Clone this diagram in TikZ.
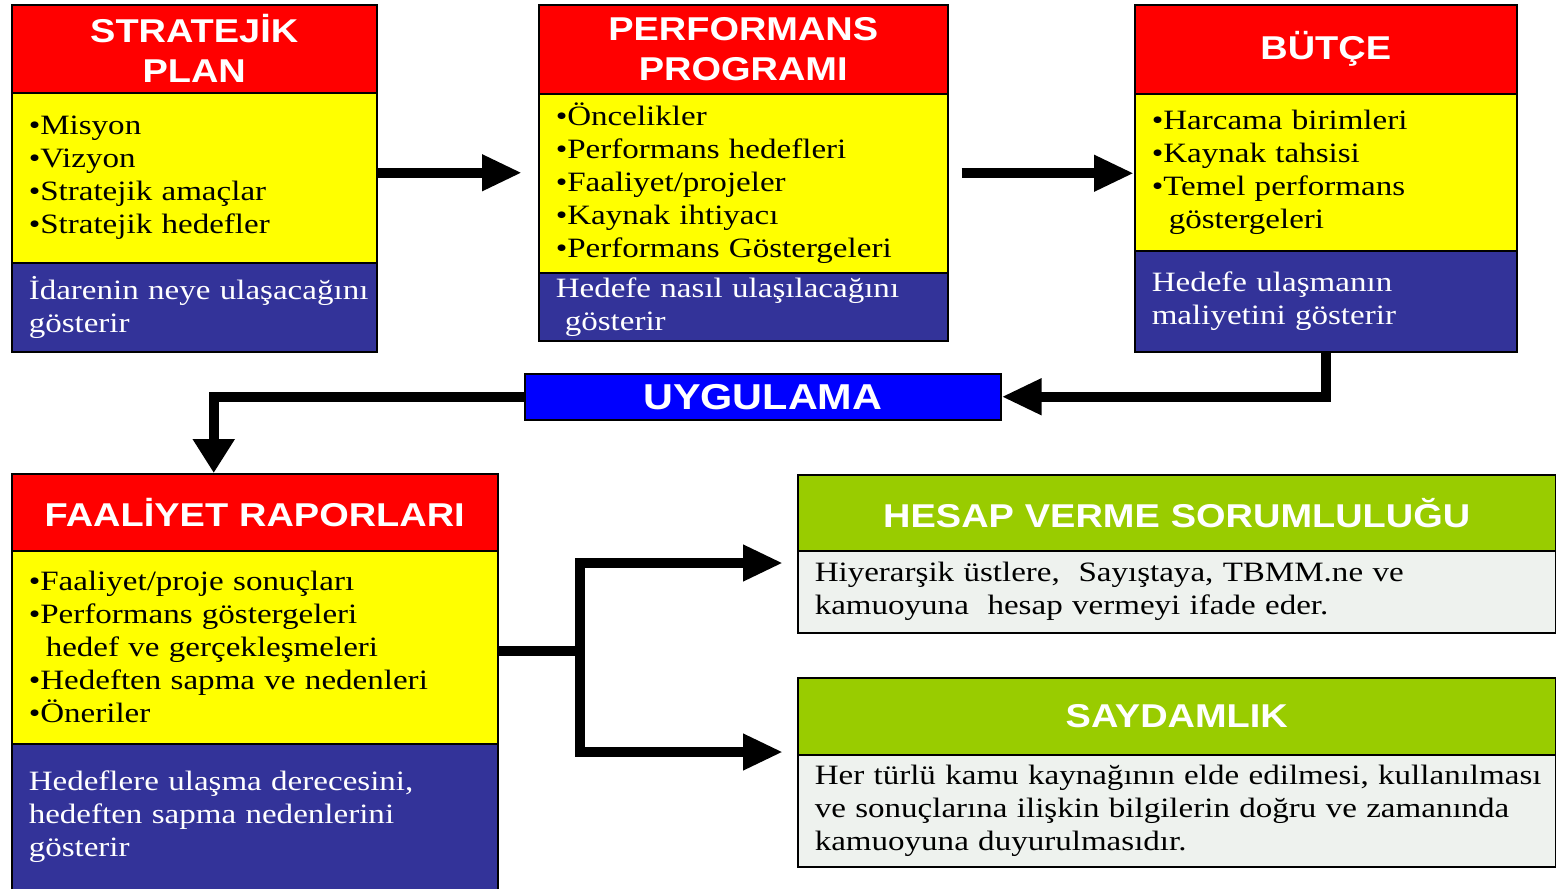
\documentclass[tikz,border=0pt]{standalone}
\usepackage{fontspec}
\setmainfont{Liberation Serif}[FakeStretch=1.18]
\newfontfamily\headfont{Liberation Sans}[FakeStretch=1.15]
\usetikzlibrary{arrows.meta}
\definecolor{headred}{HTML}{FF0000}
\definecolor{itemyellow}{HTML}{FFFF00}
\definecolor{noteblue}{HTML}{333399}
\definecolor{runblue}{HTML}{0000FF}
\definecolor{headgreen}{HTML}{99CC00}
\definecolor{bodygray}{HTML}{EEF2EE}
\begin{document}
\begin{tikzpicture}[x=1pt,y=-1pt,
    part/.style={draw=black, line width=1.5pt, anchor=north west, inner xsep=17pt, inner ysep=0pt},
    head/.style={part, fill=headred, text=white, align=center, font=\headfont\bfseries\fontsize{33}{40}\selectfont},
    greenhead/.style={head, fill=headgreen},
    items/.style={part, fill=itemyellow, text=black, align=left, font=\fontsize{28}{33}\selectfont},
    note/.style={part, fill=noteblue, text=white, align=left, font=\fontsize{28}{33}\selectfont},
    body/.style={part, fill=bodygray, text=black, align=left, font=\fontsize{28}{33}\selectfont},
    run/.style={part, fill=runblue, text=white, inner xsep=0pt, font=\headfont\bfseries\fontsize{36}{40}\selectfont},
    link/.style={line width=10pt},
    conn/.style={link, -{Triangle[length=40pt,width=34pt]}}]
  \useasboundingbox (0,0) rectangle (1556,889);

  \node[head, text width=331pt, minimum height=88pt] (sphead) at (11,4) {STRATEJİK\\PLAN};
  \node[items, text width=331pt, minimum height=170pt] (spitems) at (11,92)
    {•Misyon\\•Vizyon\\•Stratejik amaçlar\\•Stratejik hedefler};
  \node[note, text width=331pt, minimum height=89pt] (spnote) at (11,262)
    {\mbox{İdarenin neye ulaşacağını}\\gösterir};

  \node[head, text width=375pt, minimum height=89pt] (pphead) at (538,4) {PERFORMANS\\PROGRAMI};
  \node[items, text width=375pt, minimum height=179pt] (ppitems) at (538,93)
    {•Öncelikler\\•Performans hedefleri\\•Faaliyet/projeler\\•Kaynak ihtiyacı\\•Performans Göstergeleri};
  \node[note, text width=375pt, minimum height=68pt] (ppnote) at (538,272)
    {Hedefe nasıl ulaşılacağını\\\hspace*{9pt}gösterir};

  \node[head, text width=348pt, minimum height=89pt] (bthead) at (1134,4) {BÜTÇE};
  \node[items, text width=348pt, minimum height=157pt] (btitems) at (1134,93)
    {•Harcama birimleri\\•Kaynak tahsisi\\•Temel performans\\\hspace*{17pt}göstergeleri};
  \node[note, text width=348pt, minimum height=101pt] (btnote) at (1134,250)
    {Hedefe ulaşmanın\\maliyetini gösterir};

  \node[run, minimum width=476pt, minimum height=46pt] (ug) at (524,373) {UYGULAMA};

  \node[head, text width=452pt, minimum height=77pt] (frhead) at (11,473) {FAALİYET RAPORLARI};
  \node[items, text width=452pt, minimum height=193pt] (fritems) at (11,550)
    {•Faaliyet/proje sonuçları\\•Performans göstergeleri\\\hspace*{17pt}hedef ve gerçekleşmeleri\\•Hedeften sapma ve nedenleri\\•Öneriler};
  \node[note, text width=452pt, minimum height=146pt] (frnote) at (11,743)
    {Hedeflere ulaşma derecesini,\\hedeften sapma nedenlerini\\gösterir};

  \node[greenhead, text width=724pt, minimum height=76pt] (hvhead) at (797,474) {HESAP VERME SORUMLULUĞU};
  \node[body, text width=724pt, minimum height=82pt] (hvbody) at (797,550)
    {Hiyerarşik üstlere,\ \ Sayıştaya, TBMM.ne ve\\kamuoyuna\ \ hesap vermeyi ifade eder.};

  \node[greenhead, text width=724pt, minimum height=77pt] (sdhead) at (797,677) {SAYDAMLIK};
  \node[body, text width=724pt, minimum height=112pt] (sdbody) at (797,754)
    {\mbox{Her türlü kamu kaynağının elde edilmesi, kullanılması}\\ve sonuçlarına ilişkin bilgilerin doğru ve zamanında\\kamuoyuna duyurulmasıdır.};

  \coordinate (a1) at ([yshift=5pt]spitems.east);
  \coordinate (a2) at ([yshift=10pt]ppitems.east);
  \coordinate (frin) at ([xshift=-41pt]frhead.north);
  \coordinate (fork) at (580,651);
  \coordinate (hvin) at ([yshift=-13pt]hvbody.north west);
  \coordinate (sdin) at ([yshift=2pt]sdbody.north west);

  \draw[conn, shorten >=16pt] (a1) -- (a1 -| ppitems.west);
  \draw[conn, shorten <=13pt] (a2) -- (a2 -| btitems.west);
  \draw[conn] (btnote.south) |- (ug.east);
  \draw[conn, -{Triangle[length=34pt,width=40pt]}] (ug.west) -| (frin);
  \draw[link] (fritems.east |- fork) -- (fork);
  \draw[conn, shorten >=14pt] (fork) |- (hvin);
  \draw[conn, shorten >=14pt] (fork) |- (sdin);
\end{tikzpicture}
\end{document}
